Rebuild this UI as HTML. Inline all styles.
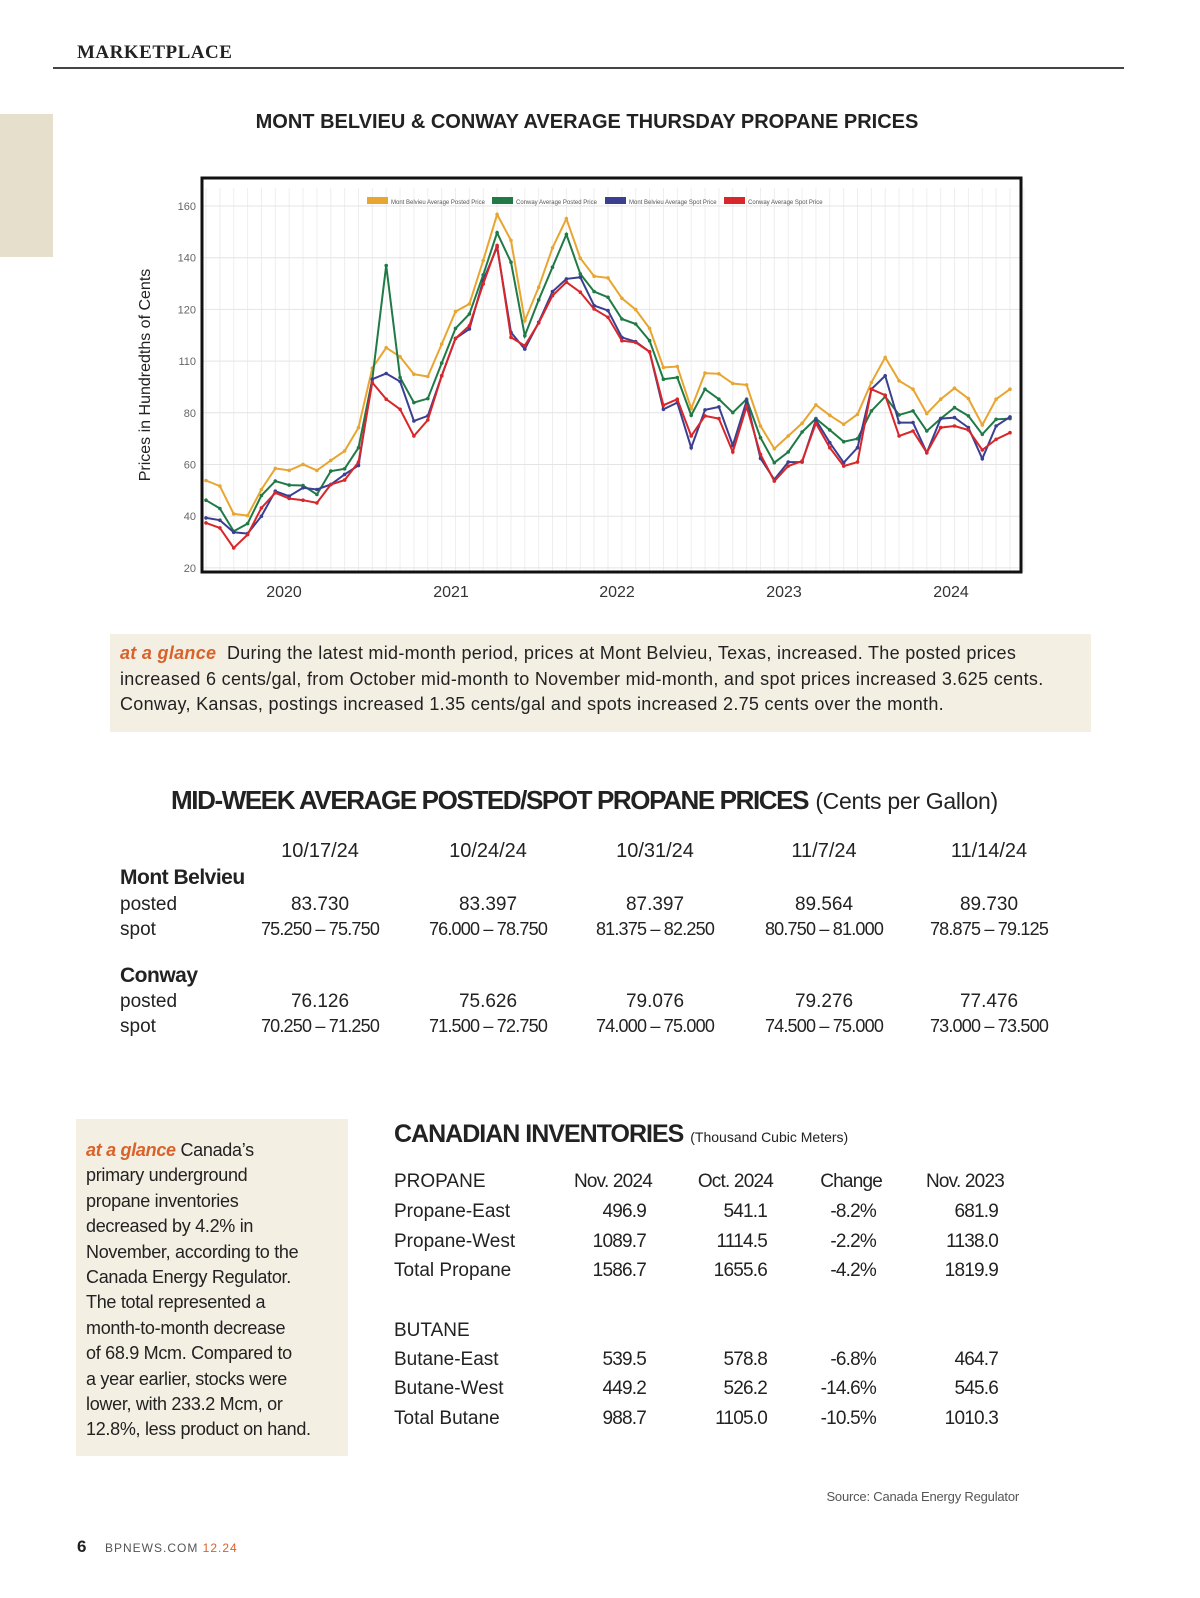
<!DOCTYPE html>
<html><head><meta charset="utf-8"><style>
body{margin:0;width:1200px;height:1598px;background:#fff;position:relative;font-family:"Liberation Sans",sans-serif;color:#222;overflow:hidden}
.a{position:absolute;white-space:nowrap}
.n{letter-spacing:-0.8px}
.h{font-weight:bold}
.c{transform:translateX(-50%)}
.r{transform:translateX(-100%)}
.or{color:#d9622b;font-style:italic;font-weight:bold}
</style></head><body>
<div class="a h" style="left:77px;top:42px;font-family:'Liberation Serif',serif;font-size:19px;letter-spacing:0.5px">MARKETPLACE</div>
<div class="a" style="left:53px;top:67px;width:1071px;height:2px;background:#444"></div>
<div class="a" style="left:0;top:114px;width:53px;height:143px;background:#e6dfcb"></div>
<div class="a h c" style="left:587px;top:111px;font-size:20px;">MONT BELVIEU &amp; CONWAY AVERAGE THURSDAY PROPANE PRICES</div>
<div class="a" style="left:146px;top:375px;font-size:16px;transform:translate(-50%,-50%) rotate(-90deg)">Prices in Hundredths of Cents</div>
<svg class="a" style="left:0;top:0" width="1200" height="620" id="ch"></svg>
<div class="a" style="left:110px;top:634px;width:981px;height:98px;background:#f3efe3"></div>
<div class="a" style="left:120px;top:641px;font-size:18px;line-height:25.5px;white-space:normal;width:945px;letter-spacing:0.3px"><span class="or">at a glance</span>&nbsp; During the latest mid-month period, prices at Mont Belvieu, Texas, increased. The posted prices increased 6 cents/gal, from October mid-month to November mid-month, and spot prices increased 3.625 cents. Conway, Kansas, postings increased 1.35 cents/gal and spots increased 2.75 cents over the month.</div>
<div class="a" style="left:171px;top:785px;font-size:26px"><span class="h" style="letter-spacing:-1.4px">MID-WEEK AVERAGE POSTED/SPOT PROPANE PRICES</span> <span style="font-size:23px;letter-spacing:-0.3px">(Cents per Gallon)</span></div>
<div id="t1"></div>
<div class="a" style="left:76px;top:1119px;width:272px;height:337px;background:#f3efe3"></div>
<div class="a" style="left:86px;top:1138px;font-size:18px;line-height:25.4px;letter-spacing:-0.3px"><span class="or">at a glance</span> Canada’s<br>primary underground<br>propane inventories<br>decreased by 4.2% in<br>November, according to the<br>Canada Energy Regulator.<br>The total represented a<br>month-to-month decrease<br>of 68.9 Mcm. Compared to<br>a year earlier, stocks were<br>lower, with 233.2 Mcm, or<br>12.8%, less product on hand.</div>
<div class="a" style="left:394px;top:1120px;font-size:25px"><span class="h" style="letter-spacing:-1px">CANADIAN INVENTORIES</span> <span style="font-size:14px">(Thousand Cubic Meters)</span></div>
<div id="t2"></div>
<div class="a r n" style="left:1019px;top:1489px;font-size:13px;color:#555;letter-spacing:-0.2px">Source: Canada Energy Regulator</div>
<div class="a h" style="left:77px;top:1537px;font-size:17px">6</div>
<div class="a" style="left:105px;top:1541px;font-size:12px;letter-spacing:1px;color:#555">BPNEWS.COM <span style="color:#d9622b">12.24</span></div>
<script>
var s='';
function tx(x,y,t,cls,fs,extra){s+='<div class="a '+(cls||'')+'" style="left:'+x+'px;top:'+y+'px;font-size:'+(fs||19)+'px;'+(extra||'')+'">'+t+'</div>';}
var cx=[320,488,655,824,989];
['10/17/24','10/24/24','10/31/24','11/7/24','11/14/24'].forEach((d,i)=>tx(cx[i],840,d,'c',20));
tx(120,866,'Mont Belvieu','h',21,'letter-spacing:-0.5px');tx(120,894,'posted','',19);tx(120,919,'spot','',19);
tx(120,964,'Conway','h',21,'letter-spacing:-0.5px');tx(120,991,'posted','',19);tx(120,1016,'spot','',19);
var mp=['83.730','83.397','87.397','89.564','89.730'],ms=['75.250 – 75.750','76.000 – 78.750','81.375 – 82.250','80.750 – 81.000','78.875 – 79.125'];
var cp=['76.126','75.626','79.076','79.276','77.476'],cs=['70.250 – 71.250','71.500 – 72.750','74.000 – 75.000','74.500 – 75.000','73.000 – 73.500'];
cx.forEach((x,i)=>{tx(x,894,mp[i],'c',19);tx(x,919,ms[i],'c n',18);tx(x,991,cp[i],'c',19);tx(x,1016,cs[i],'c n',18);});
document.getElementById('t1').outerHTML=s;s='';
var cr=[646,767,876,998];
tx(394,1171,'PROPANE','',19);
['Nov. 2024','Oct. 2024','Change','Nov. 2023'].forEach((h,i)=>tx(cr[i]+6,1171,h,'r n',19));
var rows=[[1201,'Propane-East','496.9','541.1','-8.2%','681.9'],[1231,'Propane-West','1089.7','1114.5','-2.2%','1138.0'],[1260,'Total Propane','1586.7','1655.6','-4.2%','1819.9'],
[1320,'BUTANE','','','',''],[1349,'Butane-East','539.5','578.8','-6.8%','464.7'],[1378,'Butane-West','449.2','526.2','-14.6%','545.6'],[1408,'Total Butane','988.7','1105.0','-10.5%','1010.3']];
rows.forEach(r=>{tx(394,r[0],r[1],'',19);for(var i=0;i<4;i++)tx(cr[i],r[0],r[i+2],'r n',19);});
document.getElementById('t2').outerHTML=s;
var g='';
var X0=202,X1=1021,Y0=178,Y1=572;
for(var k=0;k<60;k++){var x=206+k*13.862;g+='<line x1="'+x+'" y1="'+(Y0+10)+'" x2="'+x+'" y2="'+Y1+'" stroke="#eee" stroke-width="1"/>';}
var labs=['160','140','120','110','80','60','40','20'];
labs.forEach((l,i)=>{var y=206+i*51.7;g+='<line x1="'+X0+'" y1="'+y+'" x2="'+X1+'" y2="'+y+'" stroke="#e4e4e4"/>';g+='<text x="196" y="'+(y+4)+'" text-anchor="end" font-size="11" fill="#666" font-family="Liberation Sans,sans-serif">'+l+'</text>';});
g+='<rect x="'+X0+'" y="'+Y0+'" width="'+(X1-X0)+'" height="'+(Y1-Y0)+'" fill="none" stroke="#111" stroke-width="3"/>';
[['2020',284],['2021',451],['2022',617],['2023',784],['2024',951]].forEach(a=>g+='<text x="'+a[1]+'" y="597" text-anchor="middle" font-size="16" fill="#333" font-family="Liberation Sans,sans-serif">'+a[0]+'</text>');
var leg=[['#e8a530','Mont Belvieu Average Posted Price',367],['#1f7a45','Conway Average Posted Price',492],['#3b3f91','Mont Belvieu Average Spot Price',605],['#d8262a','Conway Average Spot Price',724]];
leg.forEach(l=>{g+='<rect x="'+l[2]+'" y="197" width="21" height="7" fill="'+l[0]+'"/><text x="'+(l[2]+24)+'" y="204" font-size="6" fill="#555">'+l[1]+'</text>';});
var D={
'#e8a530':[933,950,1033,1038,960,897,903,885,903,873,845,775,597,536,563,615,622,525,428,405,275,137,215,455,355,237,150,268,322,327,388,422,478,595,592,718,612,614,643,647,770,838,800,762,707,738,765,735,640,565,635,660,733,690,657,688,767,690,660],
'#1f7a45':[992,1017,1085,1062,978,935,947,948,975,905,898,835,630,290,625,700,688,582,478,435,318,192,280,500,393,295,197,315,368,385,450,465,515,630,625,738,660,690,730,690,805,880,848,788,748,782,817,808,725,682,737,725,785,748,715,740,795,750,748],
'#3b3f91':[1045,1052,1088,1092,1040,965,980,955,960,945,915,888,630,613,637,755,740,620,508,480,335,235,490,540,460,368,330,325,410,425,505,518,548,720,700,835,722,713,828,695,867,930,878,878,752,820,880,835,660,620,760,760,850,748,745,775,868,770,743],
'#d8262a':[1060,1075,1135,1095,1015,970,987,992,1000,945,932,878,640,690,720,800,752,620,508,470,345,230,505,530,462,380,340,370,420,445,515,520,548,708,690,800,740,748,848,712,855,935,890,875,762,835,890,878,660,678,800,785,850,775,770,782,842,810,790]};
['#e8a530','#1f7a45','#3b3f91','#d8262a'].forEach(c=>{var pts=D[c].map((v,k)=>[206+k*13.862,206+(v-112)*0.3343]);
g+='<polyline fill="none" stroke="'+c+'" stroke-width="2" points="'+pts.map(p=>p[0].toFixed(1)+','+p[1].toFixed(1)).join(' ')+'"/>';
pts.forEach(p=>g+='<circle cx="'+p[0].toFixed(1)+'" cy="'+p[1].toFixed(1)+'" r="1.8" fill="'+c+'"/>');});
document.getElementById('ch').innerHTML=g;
</script>
</body></html>
